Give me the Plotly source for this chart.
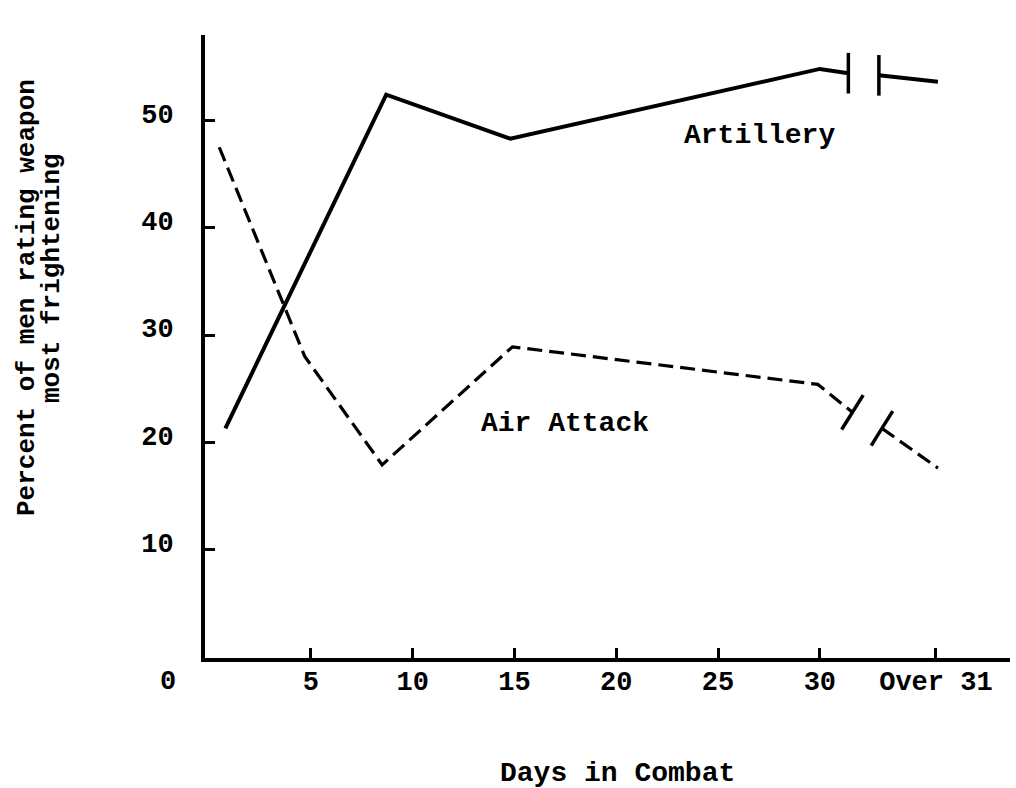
import plotly.graph_objects as go

# ---- data ----
art_days_a = [0.8, 8.7, 14.8, 30.0, 31.4]
art_pct_a = [21.3, 52.4, 48.3, 54.8, 54.4]
art_days_b = [32.9, 35.8]
art_pct_b = [54.2, 53.6]

air_days_a = [0.5, 4.7, 8.5, 14.9, 29.9, 31.6]
air_pct_a = [47.5, 28.0, 17.9, 28.9, 25.4, 22.8]
air_days_b = [33.05, 35.8]
air_pct_b = [21.3, 17.6]

x_tickvals = [5, 10, 15, 20, 25, 30, 35.7]
x_ticktext = ["5", "10", "15", "20", "25", "30", "Over 31"]
y_tickvals = [10, 20, 30, 40, 50]

FONT = "Liberation Mono"

fig = go.Figure()

# Artillery (solid)
for xs, ys in [(art_days_a, art_pct_a), (art_days_b, art_pct_b)]:
    fig.add_trace(go.Scatter(x=xs, y=ys, mode="lines",
                             line=dict(color="black", width=4),
                             showlegend=False, hoverinfo="skip"))
# break marks on artillery
fig.add_trace(go.Scatter(x=[art_days_a[-1], art_days_b[0]],
                         y=[art_pct_a[-1], art_pct_b[0]],
                         mode="markers",
                         marker=dict(symbol="line-ns", size=29,
                                     line=dict(color="black", width=3.5)),
                         showlegend=False, hoverinfo="skip"))

# Air Attack (dashed)
for xs, ys in [(air_days_a, air_pct_a), (air_days_b, air_pct_b)]:
    fig.add_trace(go.Scatter(x=xs, y=ys, mode="lines",
                             line=dict(color="black", width=3.2, dash="15px,7px"),
                             showlegend=False, hoverinfo="skip"))
fig.add_trace(go.Scatter(x=[air_days_a[-1], air_days_b[0]],
                         y=[air_pct_a[-1], air_pct_b[0]],
                         mode="markers",
                         marker=dict(symbol="line-ns", size=29, angle=32,
                                     line=dict(color="black", width=3.5)),
                         showlegend=False, hoverinfo="skip"))

# series labels
fig.add_annotation(x=27.06, y=48.6, text="Artillery", showarrow=False,
                   font=dict(family=FONT, size=28, color="black", weight="bold"))
fig.add_annotation(x=17.5, y=21.8, text="Air Attack", showarrow=False,
                   font=dict(family=FONT, size=28, color="black", weight="bold"))

# corner zero label
fig.add_annotation(xref="paper", yref="paper", x=-0.046, y=-0.0385, text="0",
                   showarrow=False, xanchor="center", yanchor="middle",
                   font=dict(family=FONT, size=27, color="black", weight="bold"))

# axis titles
fig.add_annotation(xref="paper", yref="paper", x=0.512, y=-0.185,
                   text="Days in Combat", showarrow=False,
                   xanchor="center", yanchor="middle",
                   font=dict(family=FONT, size=28, color="black", weight="bold"))
fig.add_annotation(xref="paper", yref="paper", x=-0.221, y=0.578,
                   text="Percent of men rating weapon", textangle=-90,
                   showarrow=False, xanchor="center", yanchor="middle",
                   font=dict(family=FONT, size=26, color="black", weight="bold"))
fig.add_annotation(xref="paper", yref="paper", x=-0.190, y=0.610,
                   text="most frightening", textangle=-90,
                   showarrow=False, xanchor="center", yanchor="middle",
                   font=dict(family=FONT, size=26, color="black", weight="bold"))

fig.update_layout(
    width=1016, height=788,
    margin=dict(l=205, r=6, t=35, b=130),
    paper_bgcolor="white", plot_bgcolor="white",
    showlegend=False,
    xaxis=dict(range=[-0.2, 39.34], tickmode="array",
               tickvals=x_tickvals, ticktext=x_ticktext,
               ticks="inside", ticklen=10, tickwidth=3, tickcolor="black",
               showline=True, linewidth=4, linecolor="black",
               showgrid=False, zeroline=False,
               ticklabelstandoff=-4,
               tickfont=dict(family=FONT, size=27, color="black", weight="bold")),
    yaxis=dict(range=[-0.1, 57.96], tickmode="array",
               tickvals=y_tickvals,
               ticks="inside", ticklen=10, tickwidth=3, tickcolor="black",
               showline=True, linewidth=4, linecolor="black",
               showgrid=False, zeroline=False,
               ticklabelstandoff=22, ticklabelshift=-7,
               tickfont=dict(family=FONT, size=27, color="black", weight="bold")),
)

fig.write_html("out.html",
               config={"displayModeBar": False},
               post_script="document.body.style.margin='0';document.body.style.overflow='hidden';")
